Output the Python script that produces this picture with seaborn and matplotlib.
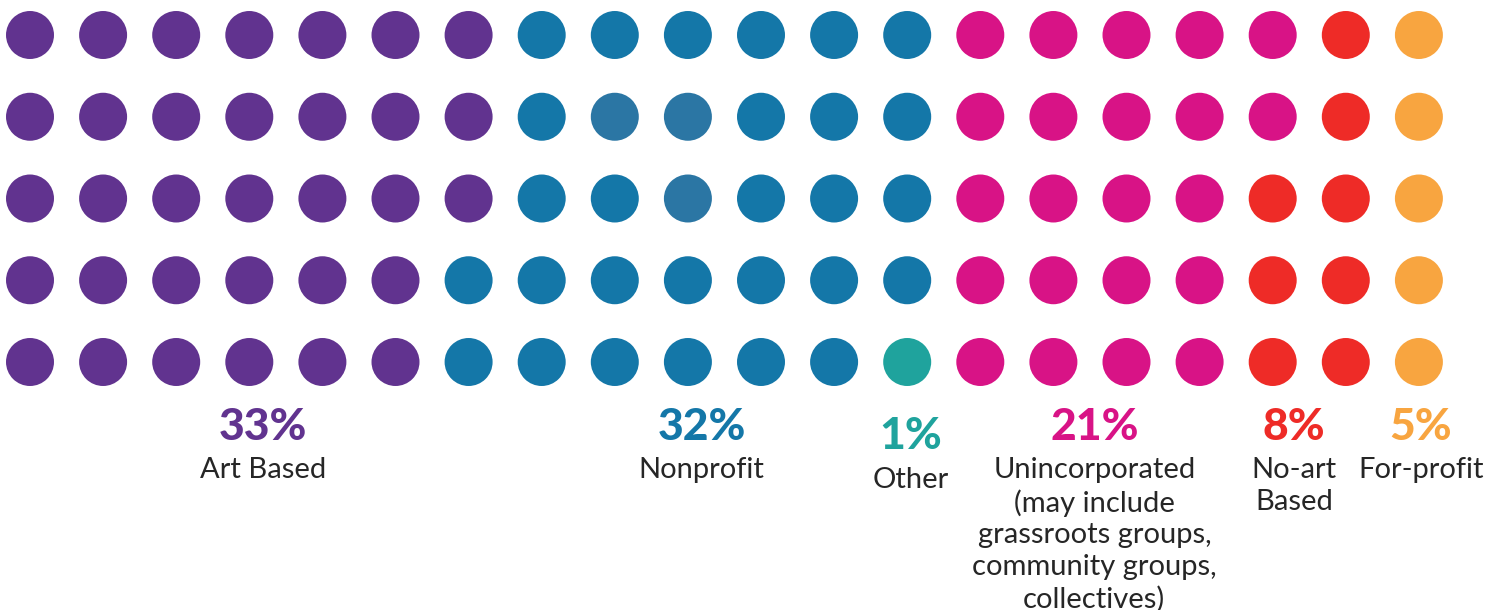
import numpy as np
import pandas as pd
import matplotlib.pyplot as plt
import seaborn as sns

sns.set_style('white')
plt.rcParams['font.family'] = ['Lato', 'DejaVu Sans']

### Dados

categorias = ['Art Based', 'Nonprofit', 'Other', 'Unincorporated', 'No-art Based', 'For-profit']
percentuais = ['33%', '32%', '1%', '21%', '8%', '5%']
rotulos = ['Art Based', 'Nonprofit', 'Other',
           'Unincorporated\n(may include\ngrassroots groups,\ncommunity groups,\ncollectives)',
           'No-art\nBased', 'For-profit']
n_pontos = [33, 31, 1, 22, 8, 5]  # pontos contados na grade (5 x 20)
cores = ['#61338f', '#1477a8', '#1fa39d', '#d81386', '#ee2b27', '#f8a540']
pontos_claros = [41, 46, 47]  # três pontos do Nonprofit num azul mais claro

n_linhas = 5
n_colunas = 20

# posição dos rótulos (em unidades de coluna / linha)
x_rotulo = [3.19, 9.19, 12.05, 14.56, 17.29, 19.03]
y_pct = [4.80, 4.80, 4.91, 4.80, 4.80, 4.80]
y_txt = [5.16, 5.16, 5.29, 5.16, 5.16, 5.16]

### Tabela dos pontos (preenchida coluna a coluna, de cima para baixo)

idx = np.arange(n_linhas * n_colunas)
df = pd.DataFrame({'coluna': idx // n_linhas,
                   'linha': idx % n_linhas,
                   'grupo': np.repeat(categorias, n_pontos)})
df.loc[pontos_claros, 'grupo'] = 'Nonprofit (claro)'

paleta = dict(zip(categorias, cores))
paleta['Nonprofit (claro)'] = '#2b76a4'

fig = plt.figure(figsize=(14.99, 6.10), dpi=100)
ax = fig.add_axes([0, 0, 1, 1])

sns.scatterplot(data=df, x='coluna', y='linha', hue='grupo', palette=paleta,
                s=1194, linewidth=0, legend=False, ax=ax)

for i in range(len(categorias)):
    ax.text(x_rotulo[i], y_pct[i], percentuais[i], color=cores[i], fontsize=32,
            fontweight='black', ha='center', va='center')
    ax.text(x_rotulo[i], y_txt[i], rotulos[i], color='#262626', fontsize=21,
            fontweight='normal', ha='center', va='top', linespacing=1.27)

ax.set_xlim(-30 / 73.1, (1499 - 30) / 73.1)
ax.set_ylim((610 - 35) / 81.75, -35 / 81.75)
ax.axis('off')

fig.savefig('out.png', dpi=100, facecolor='white')
